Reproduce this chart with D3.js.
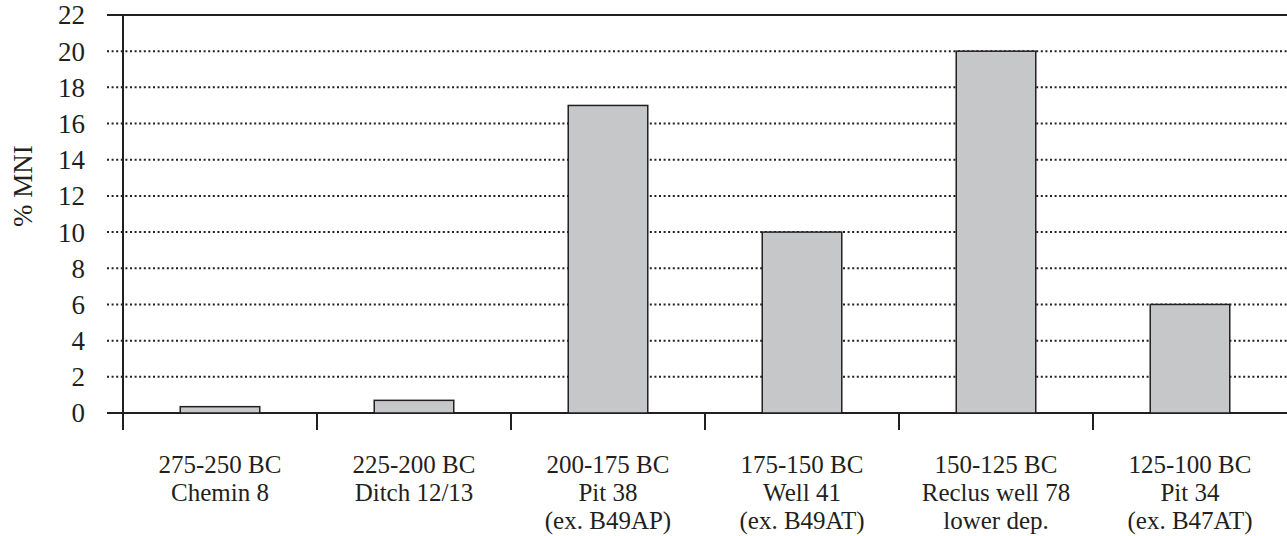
<!DOCTYPE html>
<html><head><meta charset="utf-8">
<script src="https://cdn.jsdelivr.net/npm/d3@7"></script>
<style>body{margin:0;background:#fff}svg{display:block}
svg text{font-family:"Liberation Serif","Times New Roman",serif;}
</style>
</head><body>
<svg id="c" width="1287" height="536"></svg>
<script>
const categories = [
  ["275-250 BC","Chemin 8"],
  ["225-200 BC","Ditch 12/13"],
  ["200-175 BC","Pit 38","(ex. B49AP)"],
  ["175-150 BC","Well 41","(ex. B49AT)"],
  ["150-125 BC","Reclus well 78","lower dep."],
  ["125-100 BC","Pit 34","(ex. B47AT)"]
];
const values = [0.35, 0.7, 17, 10, 20, 6];
const yTicks = [0,2,4,6,8,10,12,14,16,18,20,22];
const yTitle = "% MNI";

const ink = "#231f20";
const fs = 27;
const svg = d3.select("#c");
const L = 123, R = 1287, T = 15, B = 413;
const x = d3.scaleBand().domain(d3.range(categories.length)).range([L, R]).paddingInner(0.59).paddingOuter(0.295);
const xb = d3.scaleBand().domain(d3.range(categories.length)).range([L, R]);
const y = d3.scaleLinear().domain([0, 22]).range([B, T]);

svg.append("g").selectAll("line").data(yTicks.filter(d => d > 0 && d < 22)).join("line")
  .attr("x1", 107).attr("x2", R).attr("y1", d => y(d)).attr("y2", d => y(d))
  .attr("stroke", ink).attr("stroke-width", 2).attr("stroke-dasharray", "2,2.6");
svg.append("g").selectAll("line").data([0, 22]).join("line")
  .attr("x1", 107).attr("x2", R).attr("y1", d => y(d)).attr("y2", d => y(d))
  .attr("stroke", ink).attr("stroke-width", 2.2);

svg.append("g").selectAll("rect").data(values).join("rect")
  .attr("x", (d, i) => x(i)).attr("width", x.bandwidth())
  .attr("y", d => y(d)).attr("height", d => y(0) - y(d))
  .attr("fill", "#c6c7c9").attr("stroke", ink).attr("stroke-width", 1.5);

svg.append("line").attr("x1", L).attr("x2", L).attr("y1", T).attr("y2", 430)
  .attr("stroke", ink).attr("stroke-width", 2);
svg.append("g").selectAll("line").data(d3.range(1, categories.length)).join("line")
  .attr("x1", i => xb(i)).attr("x2", i => xb(i)).attr("y1", B).attr("y2", 430)
  .attr("stroke", ink).attr("stroke-width", 2);

svg.append("g").selectAll("text").data(yTicks).join("text")
  .attr("x", 85).attr("y", d => y(d)).attr("dy", "0.35em")
  .attr("text-anchor", "end").attr("font-size", fs).attr("fill", ink)
  .text(d => d);

svg.append("text").attr("transform", "translate(32,186) rotate(-90)")
  .attr("text-anchor", "middle").attr("font-size", fs).attr("fill", ink)
  .text(yTitle);

const cg = svg.append("g").selectAll("g").data(categories).join("g");
cg.selectAll("text").data((d, i) => d.map(s => ({s, i}))).join("text")
  .attr("text-anchor", "middle").attr("font-size", 25).attr("fill", ink)
  .attr("x", d => xb(d.i) + xb.bandwidth() / 2)
  .attr("y", (d, j) => 473 + j * 27.8)
  .text(d => d.s);
</script>
</body></html>
